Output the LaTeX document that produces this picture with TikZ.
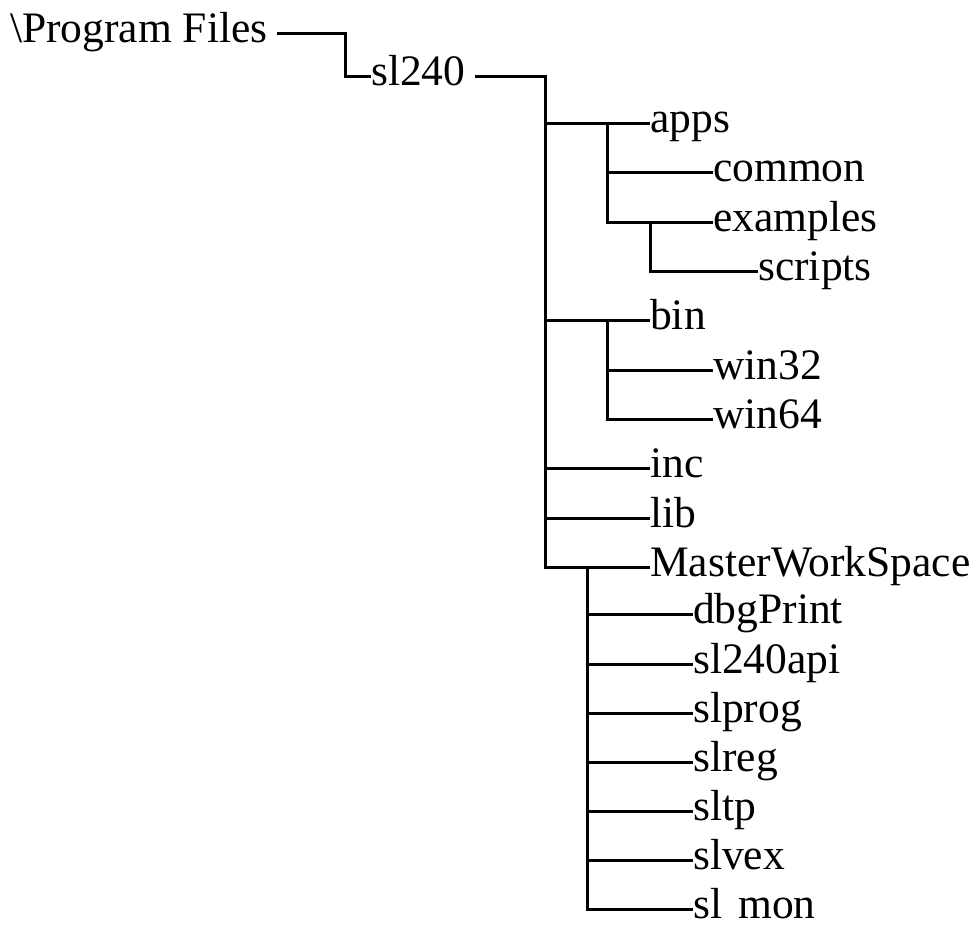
\documentclass[tikz,border=0pt]{standalone}
\usepackage{fontspec}
\setmainfont{Liberation Serif}
\begin{document}
\fontsize{43.5}{50}\selectfont
\begin{tikzpicture}[x=1pt,y=-1pt,
  dir/.style={anchor=mid west,inner sep=0pt},
  branch/.style={line width=3pt}]
\useasboundingbox (0,0) rectangle (980,927);
% folders
\node [dir] (root) at (10,33) {\textbackslash Program Files};
\node [dir] (sl240) at (371,76) {sl240};
\node [dir] (apps) at (650,123) {apps};
\node [dir] (common) at (713,172) {common};
\node [dir] (examples) at (713,222) {examples};
\node [dir] (scripts) at (758,271) {scripts};
\node [dir] (bin) at (650,320) {bin};
\node [dir] (win32) at (713,370) {win32};
\node [dir] (win64) at (713,419) {win64};
\node [dir] (inc) at (650,468) {inc};
\node [dir] (lib) at (650,518) {lib};
\node [dir] (mws) at (650,567) {MasterWorkSpace};
\node [dir] (dbgprint) at (693,614) {dbgPrint};
\node [dir] (api) at (693,664) {sl240api};
\node [dir] (slprog) at (693,713) {slprog};
\node [dir] (slreg) at (693,762) {slreg};
\node [dir] (sltp) at (693,811) {sltp};
\node [dir] (slvex) at (693,860) {slvex};
\node [dir] (slmon) at (693,909) {sl~\hspace{0.12em}mon};
% junctions
\coordinate (bend) at (345,33);
\coordinate (trunk) at (545,76);
\coordinate (appsj) at (607,123);
\coordinate (examplesj) at (650,222);
\coordinate (binj) at (607,320);
\coordinate (mwsj) at (587,567);
% branches
\draw [branch] ([xshift=9pt]root.mid east) -- (bend) |- (sl240.mid west);
\draw [branch] ([xshift=9pt]sl240.mid east) -- (trunk) |- (mws.mid west);
\draw [branch] (trunk) |- (apps.mid west);
\draw [branch] (trunk) |- (bin.mid west);
\draw [branch] (trunk) |- (inc.mid west);
\draw [branch] (trunk) |- (lib.mid west);
\draw [branch] (appsj) |- (common.mid west);
\draw [branch] (appsj) |- (examples.mid west);
\draw [branch] (examplesj) |- (scripts.mid west);
\draw [branch] (binj) |- (win32.mid west);
\draw [branch] (binj) |- (win64.mid west);
\draw [branch] (mwsj) |- (dbgprint.mid west);
\draw [branch] (mwsj) |- (api.mid west);
\draw [branch] (mwsj) |- (slprog.mid west);
\draw [branch] (mwsj) |- (slreg.mid west);
\draw [branch] (mwsj) |- (sltp.mid west);
\draw [branch] (mwsj) |- (slvex.mid west);
\draw [branch] (mwsj) |- (slmon.mid west);
\end{tikzpicture}
\end{document}
